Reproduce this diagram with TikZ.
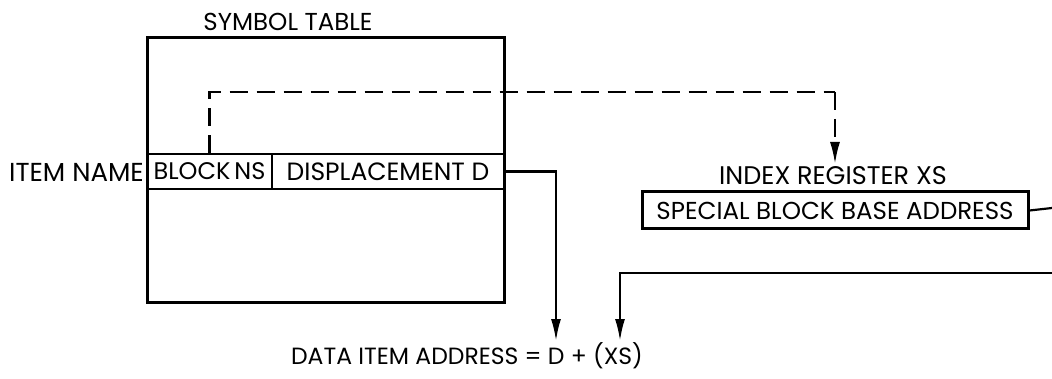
\documentclass[tikz,border=0pt]{standalone}
\usepackage{fontspec}
\setmainfont{Poppins}
\usetikzlibrary{arrows.meta}
\begin{document}
\begin{tikzpicture}[x=1pt,y=-1pt,
  fs/.style={font=\fontsize{#1}{#1}\selectfont},
  lbl/.style={inner sep=0pt},
  outerbox/.style={draw,line width=3pt,inner sep=0pt},
  cell/.style={draw,line width=2.2pt,inner sep=0pt},
  conn/.style={line width=2.2pt},
  tip/.style={-{Latex[length=22pt,width=10pt]}},
  dashline/.style={line width=2.2pt,dash pattern=on 18pt off 9pt}]
\useasboundingbox (0,0) rectangle (1052,379);
% symbol table
\node[outerbox,minimum width=357pt,minimum height=265pt] (st) at (325.5,170.5) {};
\node[lbl,fs=24.5] (stl) at (288,22) {SYMBOL TABLE};
\node[cell,fs=24,minimum width=125pt,minimum height=35pt] (blk) at (209.5,171.5) {BLOCK\,NS};
\node[cell,fs=25,minimum width=232pt,minimum height=35pt] (disp) at (388,171.5) {DISPLACEMENT D};
\node[lbl,fs=26,anchor=east] (item) at (144,172) {ITEM NAME};
% index register
\node[lbl,fs=25.5] (regl) at (833,176) {INDEX REGISTER XS};
\node[outerbox,fs=24.5,minimum width=386pt,minimum height=37pt] (reg) at (835,210.5) {SPECIAL BLOCK BASE ADDRESS};
% result
\node[lbl,fs=23.5] (res) at (467,356) {DATA ITEM ADDRESS = D + (XS)};
% coordinates
\coordinate (d1) at (835,92);
\coordinate (t1) at (835,164);
\coordinate (t2) at (556,341);
\coordinate (t3) at (620,341);
\coordinate (e1) at (1052,208);
\coordinate (e2) at (1052,273);
% connectors
\draw[dashline] (blk.north) |- (d1);
\draw[dashline,tip] (d1) -- (t1);
\draw[conn,tip] (disp.east) -| (t2);
\draw[conn] (reg.east) -- (e1);
\draw[conn,tip] (e2) -| (t3);
\end{tikzpicture}
\end{document}
